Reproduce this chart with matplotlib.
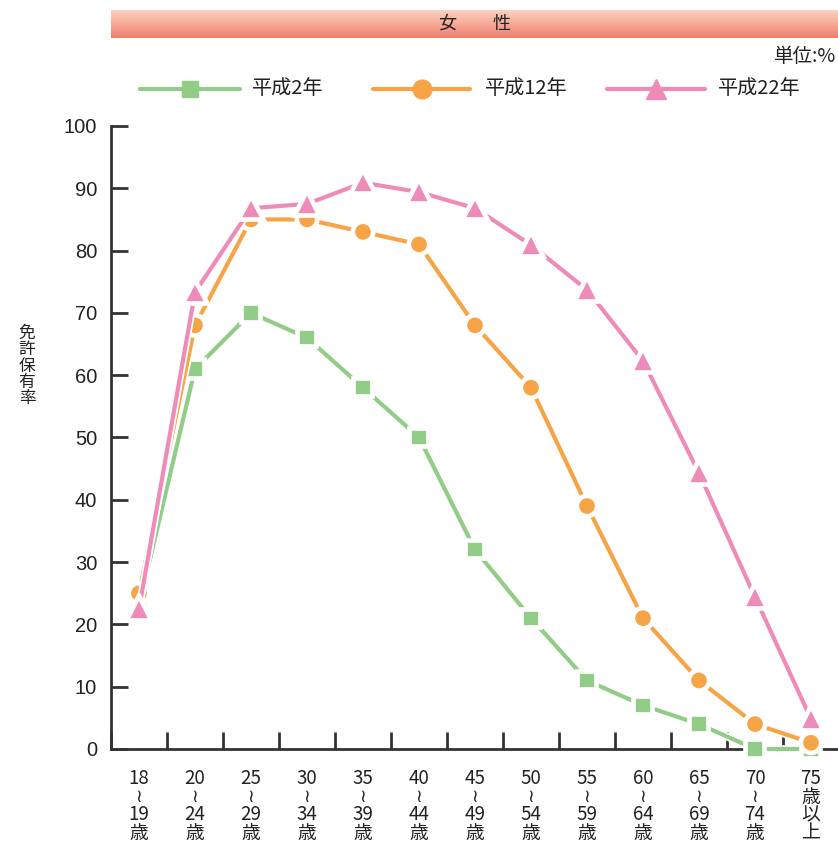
import numpy as np
import matplotlib
matplotlib.use("Agg")
import matplotlib.pyplot as plt
import matplotlib.patheffects as pe
from matplotlib.lines import Line2D
from matplotlib.colors import LinearSegmentedColormap

plt.rcParams['font.family'] = ['Noto Sans CJK JP', 'DejaVu Sans']

categories = [["18", "≀", "19", "歳"], ["20", "≀", "24", "歳"], ["25", "≀", "29", "歳"],
              ["30", "≀", "34", "歳"], ["35", "≀", "39", "歳"], ["40", "≀", "44", "歳"],
              ["45", "≀", "49", "歳"], ["50", "≀", "54", "歳"], ["55", "≀", "59", "歳"],
              ["60", "≀", "64", "歳"], ["65", "≀", "69", "歳"], ["70", "≀", "74", "歳"],
              ["75", "歳", "以", "上"]]
series_names = ["平成2年", "平成12年", "平成22年"]
h2 = [23, 61, 70, 66, 58, 50, 32, 21, 11, 7, 4, 0, 0]
h12 = [25, 68, 85, 85, 83, 81, 68, 58, 39, 21, 11, 4, 1]
h22 = [22.5, 73.3, 86.8, 87.5, 90.9, 89.4, 86.8, 80.9, 73.7, 62.3, 44.3, 24.4, 4.8]
yticks = [0, 10, 20, 30, 40, 50, 60, 70, 80, 90, 100]

colors = ["#92cd88", "#f7a446", "#ef8bb8"]
markers = ["s", "o", "^"]
msizes = [11, 12.5, 14]

W, H = 838, 844
fig = plt.figure(figsize=(W / 100, H / 100), dpi=100)

def fx(px):
    return px / W

def fy(py):
    return 1 - py / H

# title bar
tax = fig.add_axes([fx(111), fy(38), fx(838) - fx(111), fy(10) - fy(38)])
grad = np.linspace(0, 1, 64).reshape(-1, 1)
cm = LinearSegmentedColormap.from_list("bar", ["#fbd2bf", "#f07f6e"])
tax.imshow(grad, aspect="auto", cmap=cm, extent=[0, 1, 0, 1], origin="upper")
tax.set_axis_off()
tax.text(0.5, 0.5, "女　　性", ha="center", va="center", fontsize=13, color="#222222")

fig.text(fx(836), fy(57), "単位:%", ha="right", va="center", fontsize=14, color="#222222")

ax_left, ax_bottom, ax_top = 111, 749, 126
ax = fig.add_axes([fx(ax_left), fy(ax_bottom), fx(839) - fx(ax_left), fy(ax_top) - fy(ax_bottom)])
x = np.arange(len(categories)) + 0.5
data = [h2, h12, h22]
for vals, c, m, ms, name in zip(data, colors, markers, msizes, series_names):
    ax.plot(x, vals, color=c, lw=3, marker=m, ms=ms, mec="white", mew=1.2, mfc=c,
            clip_on=False, zorder=3,
            path_effects=[pe.Stroke(linewidth=5.5, foreground="white"), pe.Normal()])

ax.set_xlim(0, len(categories))
ax.set_ylim(0, 100)
for s in ["top", "right"]:
    ax.spines[s].set_visible(False)
for s in ["left", "bottom"]:
    ax.spines[s].set_linewidth(2)
    ax.spines[s].set_color("#333333")

ax.set_yticks(yticks)
ax.set_yticklabels([str(v) for v in yticks], fontsize=14.5, family=['Liberation Sans', 'DejaVu Sans'])
ax.tick_params(axis="y", direction="in", length=12, width=2, color="#333333", pad=10, labelcolor="#222222")

ax.set_xticks(x)
ax.set_xticklabels([])
ax.set_xticks(np.arange(0, len(categories) + 1), minor=True)
ax.tick_params(axis="x", which="major", length=0)
ax.tick_params(axis="x", which="minor", direction="in", length=12, width=2, color="#333333")

axh = ax_bottom - ax_top
line_px = [778, 797, 815, 833]
trans = ax.get_xaxis_transform()
for xi, parts in zip(x, categories):
    for py, part in zip(line_px, parts):
        ya = -(py - ax_bottom) / axh
        if part == "≀":
            ax.text(xi, ya, part, ha="center", va="center", fontsize=13, transform=trans,
                    family=['DejaVu Sans'], color="#222222", clip_on=False)
        else:
            ax.text(xi, ya, part, ha="center", va="center", fontsize=13.5, transform=trans,
                    color="#222222", clip_on=False)

fig.text(fx(27), fy(366), "免\n許\n保\n有\n率", ha="center", va="center", fontsize=12,
         linespacing=0.95, color="#222222")

# legend (manual)
leg_y = fy(89)
leg_specs = [(140, 240, 252), (373, 470, 485), (607, 705, 718)]
for (x0, x1, tx), c, m, ms, name in zip(leg_specs, colors, markers, msizes, series_names):
    fig.add_artist(Line2D([fx(x0), fx(x1)], [leg_y, leg_y], color=c, lw=3,
                          solid_capstyle="round", transform=fig.transFigure))
    fig.add_artist(Line2D([fx((x0 + x1) / 2)], [leg_y], color=c, marker=m, ms=ms + 1,
                          mec=c, transform=fig.transFigure))
    fig.text(fx(tx), leg_y, name, ha="left", va="center", fontsize=14.5, color="#222222")

fig.savefig("out.png", dpi=100)
